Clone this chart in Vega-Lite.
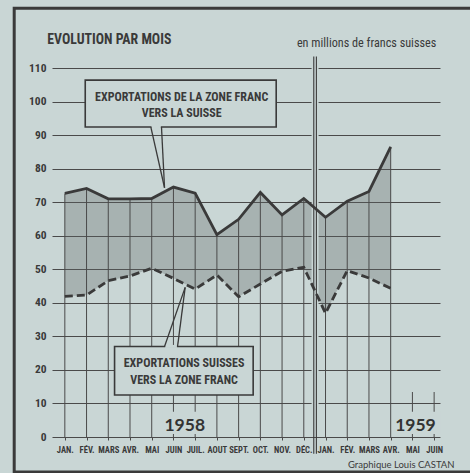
{
  "$schema": "https://vega.github.io/schema/vega-lite/v6.json",
  "width": 388,
  "height": 369,
  "autosize": "none",
  "padding": {"left": 52, "top": 68, "right": 30, "bottom": 36},
  "background": "#c9d6d5",
  "config": {"view": {"stroke": null}},
  "resolve": {"axis": {"x": "independent", "y": "independent"}},
  "datasets": {
    "series": [
      {"m": 0, "top": 72.6, "bottom": 41.9},
      {"m": 1, "top": 74.1, "bottom": 42.3},
      {"m": 2, "top": 71.0, "bottom": 46.6},
      {"m": 3, "top": 71.0, "bottom": 48.0},
      {"m": 4, "top": 71.1, "bottom": 50.3},
      {"m": 5, "top": 74.5, "bottom": 47.3},
      {"m": 6, "top": 72.7, "bottom": 44.1},
      {"m": 7, "top": 60.3, "bottom": 48.3},
      {"m": 8, "top": 64.9, "bottom": 41.8},
      {"m": 9, "top": 72.9, "bottom": 45.6},
      {"m": 10, "top": 66.2, "bottom": 49.4},
      {"m": 11, "top": 71.1, "bottom": 50.6},
      {"m": 12, "top": 65.5, "bottom": 36.9},
      {"m": 13, "top": 70.3, "bottom": 49.6},
      {"m": 14, "top": 73.2, "bottom": 47.4},
      {"m": 15, "top": 86.5, "bottom": 44.3}
    ],
    "stubs": [{"m": 16, "top": 13.4}, {"m": 17, "top": 13.4}],
    "dividerbg": [{"x": 11.52, "y": 0.5, "y2": 113}],
    "divider": [{"x": 11.46, "y": -5, "y2": 113.4}, {"x": 11.58, "y": -5, "y2": 113.4}],
    "frame": [{"x": -2.33, "x2": 18.9, "y": 127.8, "y2": -10.4}],
    "boxes": [
      {"x": 0.94, "x2": 9.73, "y": 106.4, "y2": 92.4},
      {"x": 2.29, "x2": 8.67, "y": 27.0, "y2": 12.5}
    ],
    "knockouts": [
      {"x": 4.48, "x2": 6.55, "y": 0.9, "y2": 7.5},
      {"x": 15.1, "x2": 17.3, "y": 0.9, "y2": 7.5}
    ],
    "gaps": [
      {"x": 3.99, "x2": 4.42, "y": 92.4, "y2": 92.4},
      {"x": 4.62, "x2": 5.16, "y": 27.0, "y2": 27.0}
    ],
    "pointers": [
      {"x": 3.96, "y": 92.4, "x2": 4.59, "y2": 74.3},
      {"x": 4.45, "y": 92.4, "x2": 4.59, "y2": 74.3},
      {"x": 4.59, "y": 27.0, "x2": 5.54, "y2": 44.6},
      {"x": 5.19, "y": 27.0, "x2": 5.54, "y2": 44.6}
    ],
    "boxtext": [
      {"t": "EXPORTATIONS DE LA ZONE FRANC", "x": 5.38, "y": 101.4},
      {"t": "VERS LA SUISSE", "x": 5.38, "y": 96.6},
      {"t": "EXPORTATIONS SUISSES", "x": 5.49, "y": 22.1},
      {"t": "VERS LA ZONE FRANC", "x": 5.49, "y": 17.0}
    ],
    "years": [
      {"t": "1958", "x": 5.52, "y": 3.4},
      {"t": "1959", "x": 16.14, "y": 3.4}
    ],
    "title": [{"t": "EVOLUTION PAR MOIS", "x": -0.81, "y": 117.3}],
    "units": [{"t": "en millions de francs suisses", "x": 17.1, "y": 116.3}],
    "credit": [{"t": "Graphique Louis CASTAN", "x": 17.94, "y": -9.2}]
  },
  "layer": [
    {
      "data": {"name": "series"},
      "mark": {"type": "area", "color": "#5f6868", "opacity": 0.32},
      "encoding": {
        "x": {"field": "m", "type": "quantitative", "scale": {"domain": [-0.36, 17.04], "nice": false, "zero": false},
          "axis": {"values": [0,1,2,3,4,5,6,7,8,9,10,11,12,13,14,15,16,17], "domain": false, "ticks": true, "tickSize": 3, "tickColor": "#4a4a4a", "grid": false, "title": null,
            "labelExpr": "['JAN.','FÉV.','MARS','AVR.','MAI','JUIN','JUIL.','AOUT','SEPT.','OCT.','NOV.','DÉC.','JAN.','FÉV.','MARS','AVR.','MAI','JUIN'][datum.value]",
            "labelFont": "Roboto Condensed, Roboto", "labelFontWeight": "bold", "labelFontSize": 8.6, "labelColor": "#3a3a3a", "labelPadding": 5, "labelFlush": false, "labelOverlap": false}},
        "y": {"field": "top", "type": "quantitative", "scale": {"domain": [0, 110], "nice": false},
          "axis": {"values": [0,10,20,30,40,50,60,70,80,90,100,110], "domain": false, "ticks": false, "grid": true, "gridColor": "#4a4a4a", "gridWidth": 1, "title": null,
            "labelFont": "Roboto Condensed, Roboto", "labelFontWeight": "bold", "labelFontSize": 11.5, "labelColor": "#3a3a3a", "labelPadding": 6, "labelOverlap": false}},
        "y2": {"field": "bottom"}
      }
    },
    {
      "data": {"name": "dividerbg"},
      "mark": {"type": "rule", "color": "#c9d6d5", "strokeWidth": 7},
      "encoding": {
        "x": {"field": "x", "type": "quantitative", "scale": {"domain": [-0.36, 17.04], "nice": false, "zero": false}, "axis": null},
        "y": {"field": "y", "type": "quantitative", "scale": {"domain": [0, 110], "nice": false}, "axis": null},
        "y2": {"field": "y2"}
      }
    },
    {
      "data": {"name": "series"},
      "mark": {"type": "bar", "color": "#4a4a4a", "width": 1},
      "encoding": {
        "x": {"field": "m", "type": "quantitative", "scale": {"domain": [-0.36, 17.04], "nice": false, "zero": false}, "axis": null},
        "y": {"field": "top", "type": "quantitative", "scale": {"domain": [0, 110], "nice": false}, "axis": null}
      }
    },
    {
      "data": {"name": "stubs"},
      "mark": {"type": "bar", "color": "#4a4a4a", "width": 1},
      "encoding": {
        "x": {"field": "m", "type": "quantitative", "scale": {"domain": [-0.36, 17.04], "nice": false, "zero": false}, "axis": null},
        "y": {"field": "top", "type": "quantitative", "scale": {"domain": [0, 110], "nice": false}, "axis": null}
      }
    },
    {
      "data": {"name": "knockouts"},
      "mark": {"type": "rect", "color": "#c9d6d5"},
      "encoding": {
        "x": {"field": "x", "type": "quantitative", "scale": {"domain": [-0.36, 17.04], "nice": false, "zero": false}, "axis": null},
        "x2": {"field": "x2"},
        "y": {"field": "y", "type": "quantitative", "scale": {"domain": [0, 110], "nice": false}, "axis": null},
        "y2": {"field": "y2"}
      }
    },
    {
      "data": {"name": "divider"},
      "mark": {"type": "rule", "color": "#3a3a3a", "strokeWidth": 1.1},
      "encoding": {
        "x": {"field": "x", "type": "quantitative", "scale": {"domain": [-0.36, 17.04], "nice": false, "zero": false}, "axis": null},
        "y": {"field": "y", "type": "quantitative", "scale": {"domain": [0, 110], "nice": false}, "axis": null},
        "y2": {"field": "y2"}
      }
    },
    {
      "data": {"name": "frame"},
      "mark": {"type": "rect", "fillOpacity": 0, "stroke": "#3a3a3a", "strokeWidth": 3},
      "encoding": {
        "x": {"field": "x", "type": "quantitative", "scale": {"domain": [-0.36, 17.04], "nice": false, "zero": false}, "axis": null},
        "x2": {"field": "x2"},
        "y": {"field": "y", "type": "quantitative", "scale": {"domain": [0, 110], "nice": false}, "axis": null},
        "y2": {"field": "y2"}
      }
    },
    {
      "data": {"name": "boxes"},
      "mark": {"type": "rect", "fill": "#c9d6d5", "stroke": "#3a3a3a", "strokeWidth": 1.6},
      "encoding": {
        "x": {"field": "x", "type": "quantitative", "scale": {"domain": [-0.36, 17.04], "nice": false, "zero": false}, "axis": null},
        "x2": {"field": "x2"},
        "y": {"field": "y", "type": "quantitative", "scale": {"domain": [0, 110], "nice": false}, "axis": null},
        "y2": {"field": "y2"}
      }
    },
    {
      "data": {"name": "gaps"},
      "mark": {"type": "rule", "color": "#c9d6d5", "strokeWidth": 3},
      "encoding": {
        "x": {"field": "x", "type": "quantitative", "scale": {"domain": [-0.36, 17.04], "nice": false, "zero": false}, "axis": null},
        "x2": {"field": "x2"},
        "y": {"field": "y", "type": "quantitative", "scale": {"domain": [0, 110], "nice": false}, "axis": null},
        "y2": {"field": "y2"}
      }
    },
    {
      "data": {"name": "pointers"},
      "mark": {"type": "rule", "color": "#3a3a3a", "strokeWidth": 1.3},
      "encoding": {
        "x": {"field": "x", "type": "quantitative", "scale": {"domain": [-0.36, 17.04], "nice": false, "zero": false}, "axis": null},
        "x2": {"field": "x2"},
        "y": {"field": "y", "type": "quantitative", "scale": {"domain": [0, 110], "nice": false}, "axis": null},
        "y2": {"field": "y2"}
      }
    },
    {
      "data": {"name": "series"},
      "mark": {"type": "line", "color": "#3a3a3a", "strokeWidth": 2.8, "strokeJoin": "miter"},
      "encoding": {
        "x": {"field": "m", "type": "quantitative", "scale": {"domain": [-0.36, 17.04], "nice": false, "zero": false}, "axis": null},
        "y": {"field": "top", "type": "quantitative", "scale": {"domain": [0, 110], "nice": false}, "axis": null}
      }
    },
    {
      "data": {"name": "series"},
      "mark": {"type": "line", "color": "#3a3a3a", "strokeWidth": 2.8, "strokeDash": [8, 4]},
      "encoding": {
        "x": {"field": "m", "type": "quantitative", "scale": {"domain": [-0.36, 17.04], "nice": false, "zero": false}, "axis": null},
        "y": {"field": "bottom", "type": "quantitative", "scale": {"domain": [0, 110], "nice": false}, "axis": null}
      }
    },
    {
      "data": {"name": "boxtext"},
      "mark": {"type": "text", "font": "Roboto Condensed, Roboto", "fontWeight": "bold", "fontSize": 12, "color": "#3a3a3a", "align": "center", "baseline": "middle"},
      "encoding": {
        "x": {"field": "x", "type": "quantitative", "scale": {"domain": [-0.36, 17.04], "nice": false, "zero": false}, "axis": null},
        "y": {"field": "y", "type": "quantitative", "scale": {"domain": [0, 110], "nice": false}, "axis": null},
        "text": {"field": "t"}
      }
    },
    {
      "data": {"name": "years"},
      "mark": {"type": "text", "font": "Lato", "fontWeight": "bold", "fontSize": 17.5, "color": "#333333", "align": "center", "baseline": "middle"},
      "encoding": {
        "x": {"field": "x", "type": "quantitative", "scale": {"domain": [-0.36, 17.04], "nice": false, "zero": false}, "axis": null},
        "y": {"field": "y", "type": "quantitative", "scale": {"domain": [0, 110], "nice": false}, "axis": null},
        "text": {"field": "t"}
      }
    },
    {
      "data": {"name": "title"},
      "mark": {"type": "text", "font": "Roboto Condensed, Roboto", "fontWeight": "bold", "fontSize": 13.8, "color": "#3a3a3a", "align": "left", "baseline": "alphabetic"},
      "encoding": {
        "x": {"field": "x", "type": "quantitative", "scale": {"domain": [-0.36, 17.04], "nice": false, "zero": false}, "axis": null},
        "y": {"field": "y", "type": "quantitative", "scale": {"domain": [0, 110], "nice": false}, "axis": null},
        "text": {"field": "t"}
      }
    },
    {
      "data": {"name": "units"},
      "mark": {"type": "text", "font": "Roboto Condensed, Roboto", "fontSize": 12.2, "color": "#3a3a3a", "align": "right", "baseline": "alphabetic"},
      "encoding": {
        "x": {"field": "x", "type": "quantitative", "scale": {"domain": [-0.36, 17.04], "nice": false, "zero": false}, "axis": null},
        "y": {"field": "y", "type": "quantitative", "scale": {"domain": [0, 110], "nice": false}, "axis": null},
        "text": {"field": "t"}
      }
    },
    {
      "data": {"name": "credit"},
      "mark": {"type": "text", "font": "Lato", "fontSize": 9.5, "color": "#3a3a3a", "align": "right", "baseline": "alphabetic"},
      "encoding": {
        "x": {"field": "x", "type": "quantitative", "scale": {"domain": [-0.36, 17.04], "nice": false, "zero": false}, "axis": null},
        "y": {"field": "y", "type": "quantitative", "scale": {"domain": [0, 110], "nice": false}, "axis": null},
        "text": {"field": "t"}
      }
    }
  ]
}
